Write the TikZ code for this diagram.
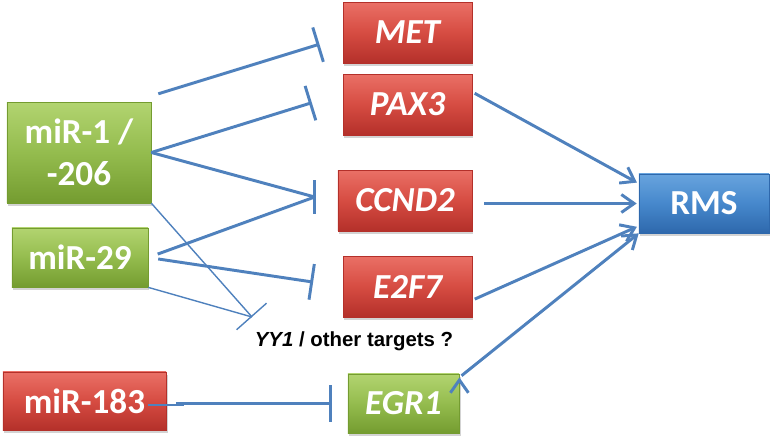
\documentclass[tikz,border=0pt]{standalone}
\usepackage{fontspec}
\setmainfont{Carlito}
\newfontfamily\labelfont{Liberation Sans}
\usetikzlibrary{arrows.meta, shadows}

\definecolor{linkblue}{RGB}{79,129,189}
\definecolor{redtop}{RGB}{234,112,102}
\definecolor{redmid}{RGB}{214,76,66}
\definecolor{redbot}{RGB}{180,48,42}
\definecolor{greentop}{RGB}{178,212,112}
\definecolor{greenmid}{RGB}{148,188,78}
\definecolor{greenbot}{RGB}{116,156,48}
\definecolor{bluetop}{RGB}{104,164,222}
\definecolor{bluemid}{RGB}{70,136,204}
\definecolor{bluebot}{RGB}{46,104,172}

\begin{document}
\begin{tikzpicture}[x=0.025cm,y=-0.025cm,
    box/.style={rectangle,inner sep=0pt,align=center,text=white,line width=0.4pt,
        font=\fontsize{25}{30}\selectfont\bfseries,
        drop shadow={shadow xshift=1pt,shadow yshift=-2pt,opacity=0.35}},
    mirna/.style={box,draw=greenbot,top color=greentop,bottom color=greenbot,middle color=greenmid},
    mirred/.style={box,draw=redbot,top color=redtop,bottom color=redbot,middle color=redmid},
    gene/.style={mirred,font=\fontsize{25}{30}\selectfont\bfseries\itshape},
    genegreen/.style={mirna,font=\fontsize{25}{30}\selectfont\bfseries\itshape},
    outcome/.style={box,draw=bluebot,top color=bluetop,bottom color=bluebot,middle color=bluemid},
    inh/.style={draw=linkblue,line width=2.1pt,-{Bar[width=0.9cm]}},
    act/.style={draw=linkblue,line width=2.1pt,-{Straight Barb[length=0.32cm,width=0.45cm]}},
    weak/.style={draw=linkblue,line width=1pt}]

    \useasboundingbox (0,0) rectangle (774,439);

    % regulators
    \node[mirna,minimum width=3.6cm,minimum height=2.52cm] (mir1) at (79,152.5) {miR-1 /\\-206};
    \node[mirna,minimum width=3.4cm,minimum height=1.48cm] (mir29) at (80,257.5) {miR-29};
    \node[mirred,minimum width=4.08cm,minimum height=1.45cm] (mir183) at (84.5,401) {miR-183};

    % targets
    \node[gene,minimum width=3.22cm,minimum height=1.52cm] (met) at (407.5,32.5) {MET};
    \node[gene,minimum width=3.22cm,minimum height=1.52cm] (pax3) at (407.5,104.5) {PAX3};
    \node[gene,minimum width=3.35cm,minimum height=1.52cm] (ccnd2) at (405,200.5) {CCND2};
    \node[gene,minimum width=3.22cm,minimum height=1.52cm] (e2f7) at (407.5,286.5) {E2F7};
    \node[genegreen,minimum width=2.78cm,minimum height=1.48cm] (egr1) at (403.5,403.5) {EGR1};
    \node[font={\labelfont\fontsize{14.5}{17}\selectfont\bfseries}] (yy1) at (354,341) {\textit{YY1} / other targets ?};

    \node[outcome,minimum width=3.25cm,minimum height=1.48cm] (rms) at (704,203.5) {RMS};

    \coordinate (ccndhit) at ([shift={(-23,-3.5)}]ccnd2.west);
    \coordinate (yyhit) at (252,317);

    \path[inh]
    ([shift={(7,-8)}]mir1.north east) edge[shorten >=0.61cm] (met.184)
    (mir1.east) edge[shorten >=0.81cm] (pax3.170)
    (mir29.east) edge[shorten <=0.25cm,shorten >=0.75cm] (e2f7.west)
    (mir183.east |- egr1.west) edge[shorten <=0.25cm,shorten >=0.38cm] (egr1.west)
    ;

    \path[draw=linkblue,line width=2.1pt]
    (mir1.east) edge (ccndhit)
    (mir29.east) edge[shorten <=0.25cm] (ccndhit)
    ([shift={(0,-17)}]ccndhit) edge ([shift={(0,17)}]ccndhit)
    ;

    \path[weak]
    (mir1.south east) edge[-{Bar[width=1cm]}] (yyhit)
    (mir29.south east) edge (yyhit)
    ;

    \path[act]
    (pax3.11) edge[shorten <=0.07cm,shorten >=0.05cm] (rms.163)
    (ccnd2.east |- rms.west) edge[shorten <=0.3cm,shorten >=0.05cm] (rms.west)
    (e2f7.348) edge[shorten <=0.07cm,shorten >=0.05cm] (rms.199)
    (egr1.25) edge[shorten <=0.07cm] (rms.south west)
    ;
\end{tikzpicture}
\end{document}
